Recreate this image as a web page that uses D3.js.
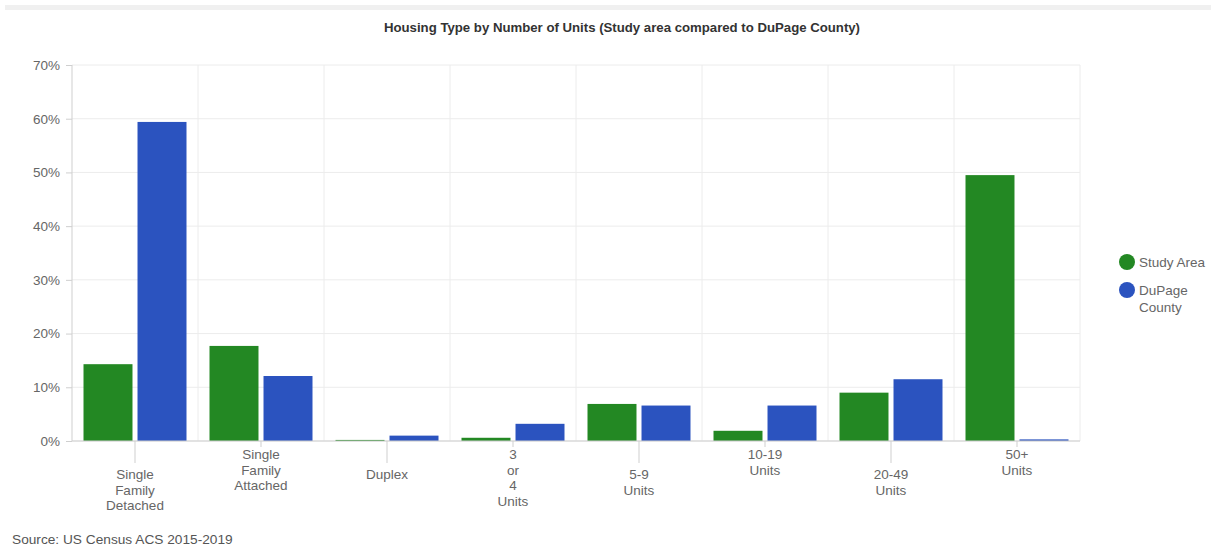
<!DOCTYPE html>
<html>
<head>
<meta charset="utf-8">
<script src="https://cdn.jsdelivr.net/npm/d3@7"></script>
<style>
  html, body { margin: 0; padding: 0; background: #fff; }
  svg { display: block; font-family: "Liberation Sans", Arial, sans-serif; }
</style>
</head>
<body>
<svg id="chart" width="1211" height="548"></svg>
<script>
// Housing units by structure type, share of all units
const categories = [
  ["Single", "Family", "Detached"],
  ["Single", "Family", "Attached"],
  ["Duplex"],
  ["3", "or", "4", "Units"],
  ["5-9", "Units"],
  ["10-19", "Units"],
  ["20-49", "Units"],
  ["50+", "Units"]
];
const seriesNames = ["Study Area", "DuPage County"];
const studyArea = [14.3, 17.7, 0.2, 0.6, 6.9, 1.9, 9.0, 49.5];
const dupage    = [59.4, 12.1, 1.0, 3.2, 6.6, 6.6, 11.5, 0.3];
const yTicks = [0, 10, 20, 30, 40, 50, 60, 70];
const colors = ["#238823", "#2b53bf"];

const svg = d3.select("#chart");
const margin = { left: 72, right: 131, top: 65, bottom: 107 };
const W = 1211, H = 548;
const plotW = W - margin.left - margin.right;
const plotH = H - margin.top - margin.bottom;
const labelSize = 13.5;

// thin band across the top
svg.append("rect").attr("x", 5).attr("y", 5).attr("width", W - 5).attr("height", 5).attr("fill", "#f0f0f0");

svg.append("text")
  .attr("x", 622).attr("y", 32)
  .attr("text-anchor", "middle")
  .attr("font-size", 13.2).attr("font-weight", "bold").attr("fill", "#333")
  .text("Housing Type by Number of Units (Study area compared to DuPage County)");

const g = svg.append("g").attr("transform", `translate(${margin.left},${margin.top})`);

const idx = d3.range(categories.length);
const x = d3.scaleBand().domain(idx).range([0, plotW]);
const xInner = d3.scaleBand().domain([0, 1]).range([0, x.bandwidth()]).paddingInner(0.093).paddingOuter(0.213);
const y = d3.scaleLinear().domain([0, 70]).range([plotH, 0]);

// horizontal grid
g.append("g").selectAll("line").data(yTicks).join("line")
  .attr("x1", 0).attr("x2", plotW)
  .attr("y1", d => y(d)).attr("y2", d => y(d))
  .attr("stroke", "#ececec");

// vertical grid at category boundaries
g.append("g").selectAll("line").data(d3.range(categories.length + 1)).join("line")
  .attr("x1", d => d * x.step()).attr("x2", d => d * x.step())
  .attr("y1", 0).attr("y2", plotH)
  .attr("stroke", d => d === 0 ? "#cfcfcf" : "#ececec");

// y axis
const yAxis = d3.axisLeft(y).tickValues(yTicks).tickFormat(d => d + "%").tickSize(6).tickPadding(6);
const ya = g.append("g").call(yAxis);
ya.select(".domain").remove();
ya.selectAll(".tick line").attr("stroke", "#cfcfcf");
ya.selectAll(".tick text").attr("font-size", labelSize).attr("fill", "#666")
  .attr("font-family", "Liberation Sans, Arial, sans-serif");

// bars
const series = [studyArea, dupage];
series.forEach((vals, s) => {
  g.append("g").selectAll("rect").data(vals).join("rect")
    .attr("x", (d, i) => x(i) + xInner(s))
    .attr("width", xInner.bandwidth())
    .attr("y", d => y(d))
    .attr("height", d => plotH - y(d))
    .attr("fill", colors[s]);
});

// baseline
g.append("line").attr("x1", 0).attr("x2", plotW).attr("y1", plotH).attr("y2", plotH).attr("stroke", "#cfcfcf");

// staggered category labels
const xl = g.append("g").attr("transform", `translate(0,${plotH})`);
idx.forEach(i => {
  const cx = x(i) + x.bandwidth() / 2;
  const low = i % 2 === 0;
  xl.append("line").attr("x1", cx).attr("x2", cx).attr("y1", 0).attr("y2", low ? 22 : 6).attr("stroke", "#cfcfcf");
  const t = xl.append("text").attr("text-anchor", "middle").attr("font-size", labelSize).attr("fill", "#666");
  categories[i].forEach((line, k) => {
    t.append("tspan").attr("x", cx).attr("y", (low ? 38 : 18) + k * 15.5).text(line);
  });
});

// legend
const legend = svg.append("g").attr("transform", "translate(1127,262)");
const legendLines = [["Study Area"], ["DuPage", "County"]];
legendLines.forEach((lines, s) => {
  const gy = s * 28;
  legend.append("circle").attr("cx", 0).attr("cy", gy).attr("r", 8).attr("fill", colors[s]);
  const t = legend.append("text").attr("font-size", labelSize).attr("fill", "#666");
  lines.forEach((ln, k) => t.append("tspan").attr("x", 12).attr("y", gy + 5 + k * 16.5).text(ln));
});

svg.append("text").attr("x", 12).attr("y", 544).attr("font-size", 13.7).attr("fill", "#555")
  .text("Source: US Census ACS 2015-2019");
</script>
</body>
</html>
